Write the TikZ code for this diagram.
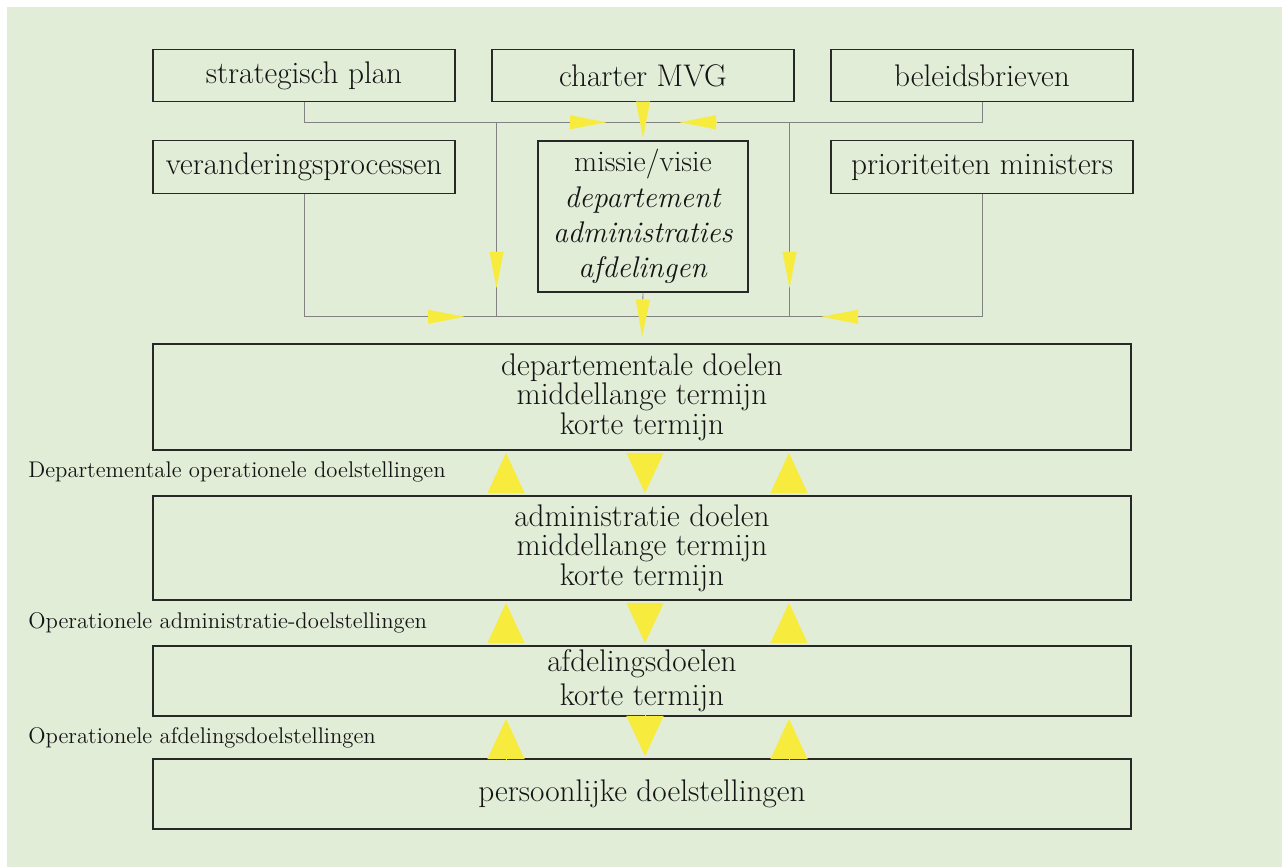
\documentclass[tikz,border=0pt]{standalone}
\usepackage{fontspec}
\usepackage{tikz}
\usetikzlibrary{arrows.meta,calc,positioning}

\definecolor{paper}{RGB}{226,237,216}
\definecolor{pointer}{RGB}{247,236,62}
\definecolor{frame}{RGB}{40,40,40}
\definecolor{bus}{RGB}{130,130,130}

\begin{document}
\begin{tikzpicture}[
    on grid,
    node distance = 2cm,
    font = \fontsize{17.8}{16.8}\selectfont
  ]

  \useasboundingbox (0,0) rectangle (25.76,17.34);
  \fill [paper] (0.14,0) rectangle (25.64,17.20);

  \tikzstyle {every node} = [color = black!92, inner sep = 0]
  \tikzstyle {box} = [draw = frame, line width = 0.6pt, align = center, minimum height = 1.05cm, minimum width = 6.04cm]
  \tikzstyle {wide} = [box, minimum width = 19.56cm]
  \tikzstyle {lbl} = [anchor = west, font = \fontsize{12.9}{14}\selectfont]
  \tikzstyle {link} = [draw = bus, line width = 0.5pt]
  \tikzstyle {tip} = [draw = pointer, line width = 0.1pt, -{Triangle[length = 0.72cm, width = 0.28cm]}]
  \tikzstyle {bigtip} = [draw = pointer, line width = 0.1pt, shorten <= 0.05cm, shorten >= 0.05cm, -{Triangle[length = 0.8cm, width = 0.74cm]}]

  \node [box] (plan) at (6.08,15.83) {strategisch plan};
  \node [box, right = 6.78cm of plan] (charter) {charter MVG};
  \node [box, right = 6.78cm of charter] (brieven) {beleidsbrieven};
  \node [box, below = 1.83cm of plan] (proces) {veranderingsprocessen};
  \node [box, below = 1.83cm of brieven] (prior) {prioriteiten ministers};
  \node [box, below = 2.82cm of charter, minimum width = 4.2cm, minimum height = 3.02cm, font = \fontsize{17}{20}\selectfont] (missie)
    {missie/visie\\ \textit{departement}\\ \textit{administraties}\\ \textit{afdelingen}};

  \node [wide, minimum height = 2.12cm] (dept) at (12.84,9.40) {departementale doelen\\ middellange termijn\\ korte termijn};
  \node [wide, below = 3.02cm of dept, minimum height = 2.08cm] (adm) {administratie doelen\\ middellange termijn\\ korte termijn};
  \node [wide, below = 2.66cm of adm, minimum height = 1.4cm] (afd) {afdelingsdoelen\\[2.6pt] korte termijn};
  \node [wide, below = 2.26cm of afd, minimum height = 1.4cm] (pers) {persoonlijke doelstellingen};

  \node [lbl] (deptlbl) at (0.56,7.90) {Departementale operationele doelstellingen};
  \node [lbl] (admlbl) at (0.56,4.88) {Operationele administratie-doelstellingen};
  \node [lbl] (afdlbl) at (0.56,2.58) {Operationele afdelingsdoelstellingen};

  \draw [link] (plan.south) -- ++(0,-0.4) coordinate (top) -| (brieven.south);
  \draw [link] (proces.south) -- ++(0,-2.46) coordinate (low) -| (prior.south);
  \coordinate (lv) at ($(proces.east)!0.5!(missie.west)$);
  \coordinate (rv) at ($(missie.east)!0.5!(prior.west)$);
  \draw [link] (lv |- top) -- (lv |- low);
  \draw [link] (rv |- top) -- (rv |- low);

  \draw [tip] ($(charter.south |- top)+(-1.46,0)$) -- +(0.72,0);
  \draw [tip] ($(charter.south |- top)+(1.46,0)$) -- +(-0.72,0);
  \draw [tip] ($(charter.south |- low)+(-4.30,0)$) -- +(0.72,0);
  \draw [tip] ($(charter.south |- low)+(4.30,0)$) -- +(-0.72,0);
  \draw [tip] ($(lv |- low)+(0,1.30)$) -- +(0,-0.72);
  \draw [tip] ($(rv |- low)+(0,1.30)$) -- +(0,-0.72);
  \draw [tip, shorten >= 0.06cm] (charter.south) -- (missie.north);
  \draw [link, -{Triangle[length = 0.74cm, width = 0.28cm, color = pointer]}, shorten >= 0.14cm] (missie.south) -- (dept.north);

  \foreach \hi/\lo in {dept/adm, adm/afd, afd/pers} {
    \draw [bigtip] ($(\lo.north)+(-2.72,0)$) -- ($(\hi.south)+(-2.72,0)$);
    \draw [bigtip] ($(\hi.south)+(0.06,0)$) -- ($(\lo.north)+(0.06,0)$);
    \draw [bigtip] ($(\lo.north)+(2.94,0)$) -- ($(\hi.south)+(2.94,0)$);
  }
\end{tikzpicture}
\end{document}
